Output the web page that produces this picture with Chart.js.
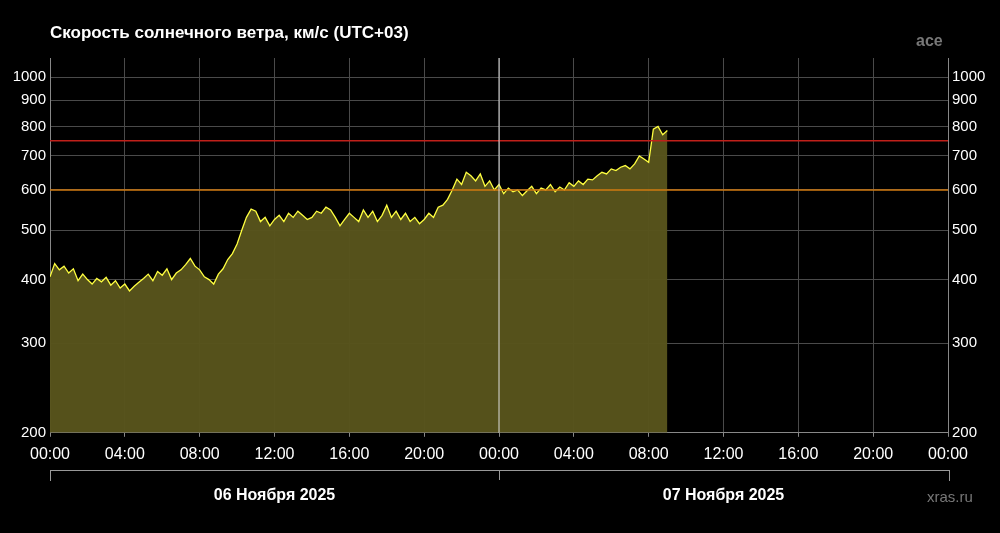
<!DOCTYPE html>
<html><head><meta charset="utf-8">
<script src="https://cdn.jsdelivr.net/npm/chart.js@4"></script>
<style>
html,body{margin:0;background:#000;width:1000px;height:533px;overflow:hidden;font-family:"Liberation Sans",Arial,sans-serif}
#w{position:absolute;left:0;top:0;width:1000px;height:533px}
.t{position:absolute;color:#fff}
</style></head><body>
<div id="w"><canvas id="c" width="1000" height="533"></canvas></div>
<div class="t" style="left:50px;top:23px;font-size:17px;font-weight:bold">Скорость солнечного ветра, км/с (UTC+03)</div>
<div class="t" style="left:916px;top:32px;font-size:16px;color:#777;font-weight:bold">ace</div>
<div class="t" style="left:927px;top:488px;font-size:15px;color:#777">xras.ru</div>
<div style="position:absolute;left:50px;top:470px;width:898px;height:10px;border-top:1px solid #999;border-left:1px solid #999;border-right:1px solid #999"></div>
<div style="position:absolute;left:499px;top:470px;width:1px;height:10px;background:#999"></div>
<div class="t" style="left:50px;width:449px;text-align:center;top:486px;font-size:16px;font-weight:bold">06 Ноября 2025</div>
<div class="t" style="left:499px;width:449px;text-align:center;top:486px;font-size:16px;font-weight:bold">07 Ноября 2025</div>
<script>
const hours = [0,0.25,0.5,0.75,1,1.25,1.5,1.75,2,2.25,2.5,2.75,3,3.25,3.5,3.75,4,4.25,4.5,4.75,5,5.25,5.5,5.75,6,6.25,6.5,6.75,7,7.25,7.5,7.75,8,8.25,8.5,8.75,9,9.25,9.5,9.75,10,10.25,10.5,10.75,11,11.25,11.5,11.75,12,12.25,12.5,12.75,13,13.25,13.5,13.75,14,14.25,14.5,14.75,15,15.25,15.5,15.75,16,16.25,16.5,16.75,17,17.25,17.5,17.75,18,18.25,18.5,18.75,19,19.25,19.5,19.75,20,20.25,20.5,20.75,21,21.25,21.5,21.75,22,22.25,22.5,22.75,23,23.25,23.5,23.75,24,24.25,24.5,24.75,25,25.25,25.5,25.75,26,26.25,26.5,26.75,27,27.25,27.5,27.75,28,28.25,28.5,28.75,29,29.25,29.5,29.75,30,30.25,30.5,30.75,31,31.25,31.5,31.75,32,32.25,32.5,32.75,33];
const speed = [405,430,418,425,412,420,398,410,400,392,402,396,404,390,398,385,392,380,388,395,402,410,398,415,408,420,400,412,418,428,440,425,418,405,400,392,410,420,438,450,470,500,530,550,545,520,530,510,525,535,520,540,530,545,535,525,530,545,540,555,548,530,510,525,540,530,520,548,530,545,520,535,560,530,545,525,540,520,530,515,525,540,530,555,560,575,600,630,615,650,640,625,645,610,625,600,615,590,605,595,600,585,598,610,590,605,600,615,595,608,600,620,610,625,615,630,628,640,650,645,660,655,665,670,660,675,700,690,680,790,800,770,785];
const yTicks = [200,300,400,500,600,700,800,900,1000];
const xTicks = [0,4,8,12,16,20,24,28,32,36,40,44,48];
const xLabels = ["00:00","04:00","08:00","12:00","16:00","20:00","00:00","04:00","08:00","12:00","16:00","20:00","00:00"];
const thresholds = [{v:750,c:'#c0201a'},{v:600,c:'#d07a10'}];

const pts = hours.map((h,i)=>({x:h,y:speed[i]}));
const overlay = {id:'ov',afterDatasetsDraw(ch){
  const {ctx,chartArea:a,scales} = ch;
  ctx.save();
  thresholds.forEach(t=>{const y=scales.y.getPixelForValue(t.v);ctx.strokeStyle=t.c;ctx.lineWidth=1.5;ctx.beginPath();ctx.moveTo(a.left,y);ctx.lineTo(a.right,y);ctx.stroke();});
  const x=scales.x.getPixelForValue(24);ctx.strokeStyle='#ddd';ctx.lineWidth=1;ctx.beginPath();ctx.moveTo(x,a.top);ctx.lineTo(x,a.bottom);ctx.stroke();
  ctx.restore();
}};
const yOpts = (pos)=>({type:'logarithmic',position:pos,min:200,max:1090,
  afterBuildTicks(s){s.ticks=yTicks.map(v=>({value:v}));},
  afterFit(s){s.width= pos==='left'?50:52;},
  ticks:{color:'#fff',font:{size:15,family:'Liberation Sans'},callback:v=>String(v),padding:4},
  grid:{color: pos==='left'?'#4a4a4a':'transparent',drawTicks:false},border:{color:'#888'}});
new Chart(document.getElementById('c'),{
  type:'line',
  data:{datasets:[{data:pts,borderColor:'#ffff40',borderWidth:1.3,pointRadius:0,fill:'start',backgroundColor:'rgba(88,84,28,0.97)',tension:0}]},
  options:{responsive:false,animation:false,devicePixelRatio:1,
    layout:{padding:{top:58,bottom:61,left:0,right:0}},
    plugins:{legend:{display:false},tooltip:{enabled:false}},
    scales:{
      x:{type:'linear',min:0,max:48,
        afterBuildTicks(s){s.ticks=xTicks.map(v=>({value:v}));},
        ticks:{color:'#fff',font:{size:16,family:'Liberation Sans'},callback:(v)=>xLabels[xTicks.indexOf(v)],maxRotation:0,autoSkip:false,padding:8},
        grid:{color:'#4a4a4a',drawTicks:true,tickLength:4,tickColor:'#888'},border:{color:'#888'}},
      y:yOpts('left'),
      y2:yOpts('right')
    }},
  plugins:[overlay]
});
</script></body></html>
